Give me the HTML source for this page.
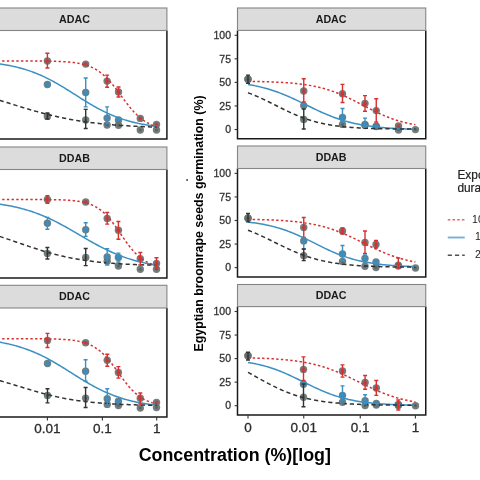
<!DOCTYPE html>
<html><head><meta charset="utf-8"><style>
html,body{margin:0;padding:0;background:#fff;width:480px;height:480px;overflow:hidden}
svg{display:block;will-change:transform;filter:blur(0.4px);font-family:"Liberation Sans",sans-serif}
</style></head><body>
<svg width="480" height="480" viewBox="0 0 480 480">
<rect width="480" height="480" fill="#fff"/>
<circle cx="248" cy="79.3" r="3.7" fill="#63706f" fill-opacity="0.9"/>
<circle cx="248" cy="79.3" r="1.5" fill="#4a4a4a" fill-opacity="0.5"/>
<circle cx="248" cy="79.3" r="3.7" fill="#63706f" fill-opacity="0.9"/>
<circle cx="248" cy="79.3" r="1.5" fill="#4a4a4a" fill-opacity="0.5"/>
<circle cx="303.75" cy="91" r="3.7" fill="#63706f" fill-opacity="0.9"/>
<circle cx="303.75" cy="91" r="2.0" fill="#c0393d" fill-opacity="0.85"/>
<circle cx="303.75" cy="105.6" r="3.7" fill="#63706f" fill-opacity="0.9"/>
<circle cx="303.75" cy="105.6" r="2.6" fill="#3a8cbf" fill-opacity="0.9"/>
<circle cx="303.75" cy="119.4" r="3.7" fill="#63706f" fill-opacity="0.9"/>
<circle cx="303.75" cy="119.4" r="1.5" fill="#4a4a4a" fill-opacity="0.5"/>
<circle cx="342.5" cy="93.75" r="3.7" fill="#63706f" fill-opacity="0.9"/>
<circle cx="342.5" cy="93.75" r="2.0" fill="#c0393d" fill-opacity="0.85"/>
<circle cx="342.5" cy="124.4" r="3.7" fill="#63706f" fill-opacity="0.9"/>
<circle cx="342.5" cy="124.4" r="1.5" fill="#4a4a4a" fill-opacity="0.5"/>
<circle cx="342.5" cy="117.5" r="3.7" fill="#63706f" fill-opacity="0.9"/>
<circle cx="342.5" cy="117.5" r="2.6" fill="#3a8cbf" fill-opacity="0.9"/>
<circle cx="365" cy="103.5" r="3.7" fill="#63706f" fill-opacity="0.9"/>
<circle cx="365" cy="103.5" r="2.0" fill="#c0393d" fill-opacity="0.85"/>
<circle cx="365" cy="125.5" r="3.7" fill="#63706f" fill-opacity="0.9"/>
<circle cx="365" cy="125.5" r="1.5" fill="#4a4a4a" fill-opacity="0.5"/>
<circle cx="365" cy="124.5" r="3.7" fill="#63706f" fill-opacity="0.9"/>
<circle cx="365" cy="124.5" r="2.6" fill="#3a8cbf" fill-opacity="0.9"/>
<circle cx="376.25" cy="110.6" r="3.7" fill="#63706f" fill-opacity="0.9"/>
<circle cx="376.25" cy="110.6" r="2.0" fill="#c0393d" fill-opacity="0.85"/>
<circle cx="376.25" cy="126.6" r="3.7" fill="#63706f" fill-opacity="0.9"/>
<circle cx="376.25" cy="126.6" r="1.5" fill="#4a4a4a" fill-opacity="0.5"/>
<circle cx="376.25" cy="126.25" r="3.7" fill="#63706f" fill-opacity="0.9"/>
<circle cx="376.25" cy="126.25" r="2.6" fill="#3a8cbf" fill-opacity="0.9"/>
<circle cx="398.5" cy="130" r="3.7" fill="#63706f" fill-opacity="0.9"/>
<circle cx="398.5" cy="130" r="1.5" fill="#4a4a4a" fill-opacity="0.5"/>
<circle cx="398.5" cy="126" r="3.7" fill="#63706f" fill-opacity="0.9"/>
<circle cx="398.5" cy="126" r="2.0" fill="#c0393d" fill-opacity="0.85"/>
<circle cx="415.4" cy="129.6" r="3.7" fill="#63706f" fill-opacity="0.9"/>
<circle cx="415.4" cy="129.6" r="1.5" fill="#4a4a4a" fill-opacity="0.5"/>
<circle cx="248" cy="218.2" r="3.7" fill="#63706f" fill-opacity="0.9"/>
<circle cx="248" cy="218.2" r="1.5" fill="#4a4a4a" fill-opacity="0.5"/>
<circle cx="248" cy="218.2" r="3.7" fill="#63706f" fill-opacity="0.9"/>
<circle cx="248" cy="218.2" r="1.5" fill="#4a4a4a" fill-opacity="0.5"/>
<circle cx="303.75" cy="227.4" r="3.7" fill="#63706f" fill-opacity="0.9"/>
<circle cx="303.75" cy="227.4" r="2.0" fill="#c0393d" fill-opacity="0.85"/>
<circle cx="303.75" cy="240.9" r="3.7" fill="#63706f" fill-opacity="0.9"/>
<circle cx="303.75" cy="240.9" r="2.6" fill="#3a8cbf" fill-opacity="0.9"/>
<circle cx="303.75" cy="255.8" r="3.7" fill="#63706f" fill-opacity="0.9"/>
<circle cx="303.75" cy="255.8" r="1.5" fill="#4a4a4a" fill-opacity="0.5"/>
<circle cx="342.5" cy="231" r="3.7" fill="#63706f" fill-opacity="0.9"/>
<circle cx="342.5" cy="231" r="2.0" fill="#c0393d" fill-opacity="0.85"/>
<circle cx="342.5" cy="254" r="3.7" fill="#63706f" fill-opacity="0.9"/>
<circle cx="342.5" cy="254" r="2.6" fill="#3a8cbf" fill-opacity="0.9"/>
<circle cx="342.5" cy="261.5" r="3.7" fill="#63706f" fill-opacity="0.9"/>
<circle cx="342.5" cy="261.5" r="1.5" fill="#4a4a4a" fill-opacity="0.5"/>
<circle cx="365" cy="242.5" r="3.7" fill="#63706f" fill-opacity="0.9"/>
<circle cx="365" cy="242.5" r="2.0" fill="#c0393d" fill-opacity="0.85"/>
<circle cx="365" cy="266.2" r="3.7" fill="#63706f" fill-opacity="0.9"/>
<circle cx="365" cy="266.2" r="1.5" fill="#4a4a4a" fill-opacity="0.5"/>
<circle cx="365" cy="258.5" r="3.7" fill="#63706f" fill-opacity="0.9"/>
<circle cx="365" cy="258.5" r="2.6" fill="#3a8cbf" fill-opacity="0.9"/>
<circle cx="376" cy="244.5" r="3.7" fill="#63706f" fill-opacity="0.9"/>
<circle cx="376" cy="244.5" r="2.0" fill="#c0393d" fill-opacity="0.85"/>
<circle cx="376" cy="267.5" r="3.7" fill="#63706f" fill-opacity="0.9"/>
<circle cx="376" cy="267.5" r="1.5" fill="#4a4a4a" fill-opacity="0.5"/>
<circle cx="376" cy="261.9" r="3.7" fill="#63706f" fill-opacity="0.9"/>
<circle cx="376" cy="261.9" r="2.6" fill="#3a8cbf" fill-opacity="0.9"/>
<circle cx="398.3" cy="266" r="3.7" fill="#63706f" fill-opacity="0.9"/>
<circle cx="398.3" cy="266" r="1.5" fill="#4a4a4a" fill-opacity="0.5"/>
<circle cx="398.3" cy="265.1" r="3.7" fill="#63706f" fill-opacity="0.9"/>
<circle cx="398.3" cy="265.1" r="2.0" fill="#c0393d" fill-opacity="0.85"/>
<circle cx="415.5" cy="268" r="3.7" fill="#63706f" fill-opacity="0.9"/>
<circle cx="415.5" cy="268" r="1.5" fill="#4a4a4a" fill-opacity="0.5"/>
<circle cx="248" cy="355.8" r="3.7" fill="#63706f" fill-opacity="0.9"/>
<circle cx="248" cy="355.8" r="1.5" fill="#4a4a4a" fill-opacity="0.5"/>
<circle cx="248" cy="355.8" r="3.7" fill="#63706f" fill-opacity="0.9"/>
<circle cx="248" cy="355.8" r="1.5" fill="#4a4a4a" fill-opacity="0.5"/>
<circle cx="303.5" cy="369.4" r="3.7" fill="#63706f" fill-opacity="0.9"/>
<circle cx="303.5" cy="369.4" r="2.0" fill="#c0393d" fill-opacity="0.85"/>
<circle cx="303.5" cy="384.3" r="3.7" fill="#63706f" fill-opacity="0.9"/>
<circle cx="303.5" cy="384.3" r="2.6" fill="#3a8cbf" fill-opacity="0.9"/>
<circle cx="303.5" cy="397.2" r="3.7" fill="#63706f" fill-opacity="0.9"/>
<circle cx="303.5" cy="397.2" r="1.5" fill="#4a4a4a" fill-opacity="0.5"/>
<circle cx="342.5" cy="371" r="3.7" fill="#63706f" fill-opacity="0.9"/>
<circle cx="342.5" cy="371" r="2.0" fill="#c0393d" fill-opacity="0.85"/>
<circle cx="342.5" cy="395.4" r="3.7" fill="#63706f" fill-opacity="0.9"/>
<circle cx="342.5" cy="395.4" r="2.6" fill="#3a8cbf" fill-opacity="0.9"/>
<circle cx="342.5" cy="402.2" r="3.7" fill="#63706f" fill-opacity="0.9"/>
<circle cx="342.5" cy="402.2" r="1.5" fill="#4a4a4a" fill-opacity="0.5"/>
<circle cx="365.1" cy="382.5" r="3.7" fill="#63706f" fill-opacity="0.9"/>
<circle cx="365.1" cy="382.5" r="2.0" fill="#c0393d" fill-opacity="0.85"/>
<circle cx="365.1" cy="405.5" r="3.7" fill="#63706f" fill-opacity="0.9"/>
<circle cx="365.1" cy="405.5" r="1.5" fill="#4a4a4a" fill-opacity="0.5"/>
<circle cx="365.1" cy="400.8" r="3.7" fill="#63706f" fill-opacity="0.9"/>
<circle cx="365.1" cy="400.8" r="2.6" fill="#3a8cbf" fill-opacity="0.9"/>
<circle cx="376.3" cy="388" r="3.7" fill="#63706f" fill-opacity="0.9"/>
<circle cx="376.3" cy="388" r="2.0" fill="#c0393d" fill-opacity="0.85"/>
<circle cx="376.3" cy="405" r="3.7" fill="#63706f" fill-opacity="0.9"/>
<circle cx="376.3" cy="405" r="1.5" fill="#4a4a4a" fill-opacity="0.5"/>
<circle cx="376.3" cy="403.5" r="3.7" fill="#63706f" fill-opacity="0.9"/>
<circle cx="376.3" cy="403.5" r="2.6" fill="#3a8cbf" fill-opacity="0.9"/>
<circle cx="398.3" cy="405.5" r="3.7" fill="#63706f" fill-opacity="0.9"/>
<circle cx="398.3" cy="405.5" r="1.5" fill="#4a4a4a" fill-opacity="0.5"/>
<circle cx="398.3" cy="404.6" r="3.7" fill="#63706f" fill-opacity="0.9"/>
<circle cx="398.3" cy="404.6" r="2.6" fill="#3a8cbf" fill-opacity="0.9"/>
<circle cx="398.3" cy="404.6" r="3.7" fill="#63706f" fill-opacity="0.9"/>
<circle cx="398.3" cy="404.6" r="2.0" fill="#c0393d" fill-opacity="0.85"/>
<circle cx="415.5" cy="405.7" r="3.7" fill="#63706f" fill-opacity="0.9"/>
<circle cx="415.5" cy="405.7" r="1.5" fill="#4a4a4a" fill-opacity="0.5"/>
<circle cx="47.4" cy="61" r="3.7" fill="#63706f" fill-opacity="0.9"/>
<circle cx="47.4" cy="61" r="2.0" fill="#c0393d" fill-opacity="0.85"/>
<circle cx="47.4" cy="84.5" r="3.7" fill="#63706f" fill-opacity="0.9"/>
<circle cx="47.4" cy="84.5" r="2.6" fill="#3a8cbf" fill-opacity="0.9"/>
<circle cx="47.4" cy="116.4" r="3.7" fill="#63706f" fill-opacity="0.9"/>
<circle cx="47.4" cy="116.4" r="1.5" fill="#4a4a4a" fill-opacity="0.5"/>
<circle cx="85.7" cy="64.1" r="3.7" fill="#63706f" fill-opacity="0.9"/>
<circle cx="85.7" cy="64.1" r="2.0" fill="#c0393d" fill-opacity="0.85"/>
<circle cx="85.7" cy="92.5" r="3.7" fill="#63706f" fill-opacity="0.9"/>
<circle cx="85.7" cy="92.5" r="2.6" fill="#3a8cbf" fill-opacity="0.9"/>
<circle cx="85.7" cy="120" r="3.7" fill="#63706f" fill-opacity="0.9"/>
<circle cx="85.7" cy="120" r="1.5" fill="#4a4a4a" fill-opacity="0.5"/>
<circle cx="107.1" cy="81.1" r="3.7" fill="#63706f" fill-opacity="0.9"/>
<circle cx="107.1" cy="81.1" r="2.0" fill="#c0393d" fill-opacity="0.85"/>
<circle cx="107.1" cy="118.1" r="3.7" fill="#63706f" fill-opacity="0.9"/>
<circle cx="107.1" cy="118.1" r="2.6" fill="#3a8cbf" fill-opacity="0.9"/>
<circle cx="107.1" cy="125" r="3.7" fill="#63706f" fill-opacity="0.9"/>
<circle cx="107.1" cy="125" r="1.5" fill="#4a4a4a" fill-opacity="0.5"/>
<circle cx="118.5" cy="92" r="3.7" fill="#63706f" fill-opacity="0.9"/>
<circle cx="118.5" cy="92" r="2.0" fill="#c0393d" fill-opacity="0.85"/>
<circle cx="118.5" cy="120" r="3.7" fill="#63706f" fill-opacity="0.9"/>
<circle cx="118.5" cy="120" r="2.6" fill="#3a8cbf" fill-opacity="0.9"/>
<circle cx="118.5" cy="125.2" r="3.7" fill="#63706f" fill-opacity="0.9"/>
<circle cx="118.5" cy="125.2" r="1.5" fill="#4a4a4a" fill-opacity="0.5"/>
<circle cx="140.3" cy="130" r="3.7" fill="#63706f" fill-opacity="0.9"/>
<circle cx="140.3" cy="130" r="1.5" fill="#4a4a4a" fill-opacity="0.5"/>
<circle cx="140.3" cy="118.4" r="3.7" fill="#63706f" fill-opacity="0.9"/>
<circle cx="140.3" cy="118.4" r="2.0" fill="#c0393d" fill-opacity="0.85"/>
<circle cx="156.5" cy="130" r="3.7" fill="#63706f" fill-opacity="0.9"/>
<circle cx="156.5" cy="130" r="1.5" fill="#4a4a4a" fill-opacity="0.5"/>
<circle cx="156.5" cy="124.4" r="3.7" fill="#63706f" fill-opacity="0.9"/>
<circle cx="156.5" cy="124.4" r="2.0" fill="#c0393d" fill-opacity="0.85"/>
<circle cx="47.4" cy="199.5" r="3.7" fill="#63706f" fill-opacity="0.9"/>
<circle cx="47.4" cy="199.5" r="2.0" fill="#c0393d" fill-opacity="0.85"/>
<circle cx="47.4" cy="223.3" r="3.7" fill="#63706f" fill-opacity="0.9"/>
<circle cx="47.4" cy="223.3" r="2.6" fill="#3a8cbf" fill-opacity="0.9"/>
<circle cx="47.4" cy="253.4" r="3.7" fill="#63706f" fill-opacity="0.9"/>
<circle cx="47.4" cy="253.4" r="1.5" fill="#4a4a4a" fill-opacity="0.5"/>
<circle cx="85.7" cy="202" r="3.7" fill="#63706f" fill-opacity="0.9"/>
<circle cx="85.7" cy="202" r="2.0" fill="#c0393d" fill-opacity="0.85"/>
<circle cx="85.7" cy="229.8" r="3.7" fill="#63706f" fill-opacity="0.9"/>
<circle cx="85.7" cy="229.8" r="2.6" fill="#3a8cbf" fill-opacity="0.9"/>
<circle cx="85.7" cy="257.5" r="3.7" fill="#63706f" fill-opacity="0.9"/>
<circle cx="85.7" cy="257.5" r="1.5" fill="#4a4a4a" fill-opacity="0.5"/>
<circle cx="107.2" cy="218.5" r="3.7" fill="#63706f" fill-opacity="0.9"/>
<circle cx="107.2" cy="218.5" r="2.0" fill="#c0393d" fill-opacity="0.85"/>
<circle cx="107.2" cy="261.3" r="3.7" fill="#63706f" fill-opacity="0.9"/>
<circle cx="107.2" cy="261.3" r="1.5" fill="#4a4a4a" fill-opacity="0.5"/>
<circle cx="107.2" cy="256.9" r="3.7" fill="#63706f" fill-opacity="0.9"/>
<circle cx="107.2" cy="256.9" r="2.6" fill="#3a8cbf" fill-opacity="0.9"/>
<circle cx="118.4" cy="230.3" r="3.7" fill="#63706f" fill-opacity="0.9"/>
<circle cx="118.4" cy="230.3" r="2.0" fill="#c0393d" fill-opacity="0.85"/>
<circle cx="118.4" cy="266" r="3.7" fill="#63706f" fill-opacity="0.9"/>
<circle cx="118.4" cy="266" r="1.5" fill="#4a4a4a" fill-opacity="0.5"/>
<circle cx="118.4" cy="257.5" r="3.7" fill="#63706f" fill-opacity="0.9"/>
<circle cx="118.4" cy="257.5" r="2.6" fill="#3a8cbf" fill-opacity="0.9"/>
<circle cx="140.3" cy="269.2" r="3.7" fill="#63706f" fill-opacity="0.9"/>
<circle cx="140.3" cy="269.2" r="1.5" fill="#4a4a4a" fill-opacity="0.5"/>
<circle cx="140.3" cy="258.75" r="3.7" fill="#63706f" fill-opacity="0.9"/>
<circle cx="140.3" cy="258.75" r="2.0" fill="#c0393d" fill-opacity="0.85"/>
<circle cx="156.5" cy="269.2" r="3.7" fill="#63706f" fill-opacity="0.9"/>
<circle cx="156.5" cy="269.2" r="1.5" fill="#4a4a4a" fill-opacity="0.5"/>
<circle cx="156.5" cy="263.4" r="3.7" fill="#63706f" fill-opacity="0.9"/>
<circle cx="156.5" cy="263.4" r="2.0" fill="#c0393d" fill-opacity="0.85"/>
<circle cx="47.5" cy="340.4" r="3.7" fill="#63706f" fill-opacity="0.9"/>
<circle cx="47.5" cy="340.4" r="2.0" fill="#c0393d" fill-opacity="0.85"/>
<circle cx="47.5" cy="363.5" r="3.7" fill="#63706f" fill-opacity="0.9"/>
<circle cx="47.5" cy="363.5" r="2.6" fill="#3a8cbf" fill-opacity="0.9"/>
<circle cx="47.5" cy="395.4" r="3.7" fill="#63706f" fill-opacity="0.9"/>
<circle cx="47.5" cy="395.4" r="1.5" fill="#4a4a4a" fill-opacity="0.5"/>
<circle cx="85.6" cy="342.8" r="3.7" fill="#63706f" fill-opacity="0.9"/>
<circle cx="85.6" cy="342.8" r="2.0" fill="#c0393d" fill-opacity="0.85"/>
<circle cx="85.6" cy="371.25" r="3.7" fill="#63706f" fill-opacity="0.9"/>
<circle cx="85.6" cy="371.25" r="2.6" fill="#3a8cbf" fill-opacity="0.9"/>
<circle cx="85.6" cy="398.1" r="3.7" fill="#63706f" fill-opacity="0.9"/>
<circle cx="85.6" cy="398.1" r="1.5" fill="#4a4a4a" fill-opacity="0.5"/>
<circle cx="107.25" cy="360.2" r="3.7" fill="#63706f" fill-opacity="0.9"/>
<circle cx="107.25" cy="360.2" r="2.0" fill="#c0393d" fill-opacity="0.85"/>
<circle cx="107.25" cy="404.4" r="3.7" fill="#63706f" fill-opacity="0.9"/>
<circle cx="107.25" cy="404.4" r="1.5" fill="#4a4a4a" fill-opacity="0.5"/>
<circle cx="107.25" cy="398.75" r="3.7" fill="#63706f" fill-opacity="0.9"/>
<circle cx="107.25" cy="398.75" r="2.6" fill="#3a8cbf" fill-opacity="0.9"/>
<circle cx="118.4" cy="372.5" r="3.7" fill="#63706f" fill-opacity="0.9"/>
<circle cx="118.4" cy="372.5" r="2.0" fill="#c0393d" fill-opacity="0.85"/>
<circle cx="118.4" cy="405.6" r="3.7" fill="#63706f" fill-opacity="0.9"/>
<circle cx="118.4" cy="405.6" r="1.5" fill="#4a4a4a" fill-opacity="0.5"/>
<circle cx="118.4" cy="401.25" r="3.7" fill="#63706f" fill-opacity="0.9"/>
<circle cx="118.4" cy="401.25" r="2.6" fill="#3a8cbf" fill-opacity="0.9"/>
<circle cx="140.3" cy="408.1" r="3.7" fill="#63706f" fill-opacity="0.9"/>
<circle cx="140.3" cy="408.1" r="1.5" fill="#4a4a4a" fill-opacity="0.5"/>
<circle cx="140.3" cy="398.2" r="3.7" fill="#63706f" fill-opacity="0.9"/>
<circle cx="140.3" cy="398.2" r="2.0" fill="#c0393d" fill-opacity="0.85"/>
<circle cx="156.5" cy="407.6" r="3.7" fill="#63706f" fill-opacity="0.9"/>
<circle cx="156.5" cy="407.6" r="1.5" fill="#4a4a4a" fill-opacity="0.5"/>
<circle cx="156.5" cy="402.4" r="3.7" fill="#63706f" fill-opacity="0.9"/>
<circle cx="156.5" cy="402.4" r="2.0" fill="#c0393d" fill-opacity="0.85"/>
<path d="M248.00,84.48 L249.50,84.73 L251.00,84.99 L252.50,85.27 L254.00,85.56 L255.50,85.87 L257.00,86.19 L258.50,86.52 L260.00,86.86 L261.50,87.23 L263.00,87.61 L264.50,88.00 L266.00,88.41 L267.50,88.83 L269.00,89.28 L270.50,89.74 L272.00,90.21 L273.50,90.70 L275.00,91.21 L276.50,91.74 L278.00,92.28 L279.50,92.84 L281.00,93.42 L282.50,94.01 L284.00,94.61 L285.50,95.23 L287.00,95.87 L288.50,96.52 L290.00,97.18 L291.50,97.85 L293.00,98.54 L294.50,99.24 L296.00,99.94 L297.50,100.66 L299.00,101.38 L300.50,102.10 L302.00,102.84 L303.50,103.57 L305.00,104.31 L306.50,105.05 L308.00,105.79 L309.50,106.52 L311.00,107.26 L312.50,107.99 L314.00,108.71 L315.50,109.43 L317.00,110.14 L318.50,110.84 L320.00,111.53 L321.50,112.21 L323.00,112.88 L324.50,113.54 L326.00,114.18 L327.50,114.81 L329.00,115.43 L330.50,116.03 L332.00,116.61 L333.50,117.18 L335.00,117.73 L336.50,118.27 L338.00,118.79 L339.50,119.29 L341.00,119.78 L342.50,120.25 L344.00,120.70 L345.50,121.13 L347.00,121.55 L348.50,121.96 L350.00,122.34 L351.50,122.72 L353.00,123.07 L354.50,123.41 L356.00,123.74 L357.50,124.05 L359.00,124.35 L360.50,124.64 L362.00,124.91 L363.50,125.17 L365.00,125.42 L366.50,125.65 L368.00,125.88 L369.50,126.09 L371.00,126.29 L372.50,126.49 L374.00,126.67 L375.50,126.84 L377.00,127.01 L378.50,127.17 L380.00,127.32 L381.50,127.46 L383.00,127.59 L384.50,127.72 L386.00,127.84 L387.50,127.95 L389.00,128.06 L390.50,128.16 L392.00,128.26 L393.50,128.35 L395.00,128.44 L396.50,128.52 L398.00,128.60 L399.50,128.67 L401.00,128.74 L402.50,128.81 L404.00,128.87 L405.50,128.93 L407.00,128.98 L408.50,129.03 L410.00,129.08 L411.50,129.13 L413.00,129.17 L414.50,129.22 L415.40,129.24" fill="none" stroke="#3a90c2" stroke-width="1.5"/>
<path d="M248.00,92.80 L249.50,93.35 L251.00,93.92 L252.50,94.50 L254.00,95.11 L255.50,95.73 L257.00,96.37 L258.50,97.02 L260.00,97.69 L261.50,98.37 L263.00,99.07 L264.50,99.78 L266.00,100.50 L267.50,101.23 L269.00,101.96 L270.50,102.71 L272.00,103.46 L273.50,104.22 L275.00,104.98 L276.50,105.74 L278.00,106.49 L279.50,107.25 L281.00,108.01 L282.50,108.75 L284.00,109.50 L285.50,110.23 L287.00,110.96 L288.50,111.67 L290.00,112.37 L291.50,113.06 L293.00,113.74 L294.50,114.40 L296.00,115.04 L297.50,115.67 L299.00,116.29 L300.50,116.88 L302.00,117.46 L303.50,118.01 L305.00,118.55 L306.50,119.07 L308.00,119.58 L309.50,120.06 L311.00,120.52 L312.50,120.97 L314.00,121.40 L315.50,121.81 L317.00,122.20 L318.50,122.57 L320.00,122.93 L321.50,123.27 L323.00,123.60 L324.50,123.91 L326.00,124.20 L327.50,124.48 L329.00,124.75 L330.50,125.00 L332.00,125.24 L333.50,125.47 L335.00,125.68 L336.50,125.89 L338.00,126.08 L339.50,126.26 L341.00,126.44 L342.50,126.60 L344.00,126.75 L345.50,126.90 L347.00,127.03 L348.50,127.16 L350.00,127.29 L351.50,127.40 L353.00,127.51 L354.50,127.61 L356.00,127.71 L357.50,127.80 L359.00,127.88 L360.50,127.96 L362.00,128.04 L363.50,128.11 L365.00,128.18 L366.50,128.24 L368.00,128.30 L369.50,128.35 L371.00,128.41 L372.50,128.46 L374.00,128.50 L375.50,128.54 L377.00,128.59 L378.50,128.62 L380.00,128.66 L381.50,128.69 L383.00,128.72 L384.50,128.75 L386.00,128.78 L387.50,128.81 L389.00,128.83 L390.50,128.86 L392.00,128.88 L393.50,128.90 L395.00,128.92 L396.50,128.94 L398.00,128.95 L399.50,128.97 L401.00,128.98 L402.50,129.00 L404.00,129.01 L405.50,129.02 L407.00,129.03 L408.50,129.04 L410.00,129.05 L411.50,129.06 L413.00,129.07 L414.50,129.08 L415.40,129.09" fill="none" stroke="#333333" stroke-width="1.5" stroke-dasharray="4.2 3"/>
<path d="M248.00,81.35 L249.50,81.37 L251.00,81.39 L252.50,81.42 L254.00,81.44 L255.50,81.47 L257.00,81.50 L258.50,81.54 L260.00,81.57 L261.50,81.61 L263.00,81.64 L264.50,81.69 L266.00,81.73 L267.50,81.78 L269.00,81.83 L270.50,81.88 L272.00,81.94 L273.50,82.00 L275.00,82.06 L276.50,82.13 L278.00,82.20 L279.50,82.28 L281.00,82.36 L282.50,82.45 L284.00,82.55 L285.50,82.65 L287.00,82.75 L288.50,82.86 L290.00,82.98 L291.50,83.11 L293.00,83.24 L294.50,83.39 L296.00,83.54 L297.50,83.70 L299.00,83.87 L300.50,84.05 L302.00,84.24 L303.50,84.44 L305.00,84.65 L306.50,84.88 L308.00,85.12 L309.50,85.37 L311.00,85.63 L312.50,85.91 L314.00,86.21 L315.50,86.52 L317.00,86.84 L318.50,87.19 L320.00,87.55 L321.50,87.92 L323.00,88.32 L324.50,88.73 L326.00,89.16 L327.50,89.62 L329.00,90.09 L330.50,90.58 L332.00,91.09 L333.50,91.62 L335.00,92.17 L336.50,92.74 L338.00,93.32 L339.50,93.93 L341.00,94.56 L342.50,95.20 L344.00,95.86 L345.50,96.54 L347.00,97.24 L348.50,97.95 L350.00,98.67 L351.50,99.40 L353.00,100.15 L354.50,100.91 L356.00,101.68 L357.50,102.45 L359.00,103.23 L360.50,104.01 L362.00,104.79 L363.50,105.58 L365.00,106.36 L366.50,107.14 L368.00,107.92 L369.50,108.69 L371.00,109.45 L372.50,110.21 L374.00,110.95 L375.50,111.68 L377.00,112.40 L378.50,113.11 L380.00,113.79 L381.50,114.47 L383.00,115.12 L384.50,115.76 L386.00,116.38 L387.50,116.98 L389.00,117.56 L390.50,118.13 L392.00,118.67 L393.50,119.19 L395.00,119.70 L396.50,120.18 L398.00,120.64 L399.50,121.09 L401.00,121.52 L402.50,121.92 L404.00,122.31 L405.50,122.68 L407.00,123.04 L408.50,123.37 L410.00,123.70 L411.50,124.00 L413.00,124.29 L414.50,124.56 L415.40,124.72" fill="none" stroke="#d8302f" stroke-width="1.5" stroke-dasharray="2.4 2.3"/>
<path d="M248.00,222.12 L249.50,222.29 L251.00,222.47 L252.50,222.66 L254.00,222.86 L255.50,223.07 L257.00,223.29 L258.50,223.53 L260.00,223.77 L261.50,224.03 L263.00,224.30 L264.50,224.59 L266.00,224.89 L267.50,225.20 L269.00,225.53 L270.50,225.88 L272.00,226.24 L273.50,226.62 L275.00,227.01 L276.50,227.42 L278.00,227.85 L279.50,228.30 L281.00,228.76 L282.50,229.25 L284.00,229.75 L285.50,230.26 L287.00,230.80 L288.50,231.36 L290.00,231.93 L291.50,232.52 L293.00,233.12 L294.50,233.74 L296.00,234.38 L297.50,235.03 L299.00,235.70 L300.50,236.38 L302.00,237.07 L303.50,237.78 L305.00,238.49 L306.50,239.21 L308.00,239.95 L309.50,240.68 L311.00,241.43 L312.50,242.17 L314.00,242.92 L315.50,243.67 L317.00,244.42 L318.50,245.16 L320.00,245.91 L321.50,246.64 L323.00,247.38 L324.50,248.10 L326.00,248.82 L327.50,249.52 L329.00,250.21 L330.50,250.89 L332.00,251.56 L333.50,252.22 L335.00,252.86 L336.50,253.48 L338.00,254.09 L339.50,254.68 L341.00,255.25 L342.50,255.80 L344.00,256.34 L345.50,256.86 L347.00,257.36 L348.50,257.85 L350.00,258.31 L351.50,258.76 L353.00,259.19 L354.50,259.61 L356.00,260.00 L357.50,260.38 L359.00,260.74 L360.50,261.09 L362.00,261.42 L363.50,261.74 L365.00,262.04 L366.50,262.32 L368.00,262.60 L369.50,262.86 L371.00,263.10 L372.50,263.34 L374.00,263.56 L375.50,263.77 L377.00,263.97 L378.50,264.16 L380.00,264.34 L381.50,264.51 L383.00,264.67 L384.50,264.82 L386.00,264.97 L387.50,265.10 L389.00,265.23 L390.50,265.35 L392.00,265.47 L393.50,265.58 L395.00,265.68 L396.50,265.78 L398.00,265.87 L399.50,265.95 L401.00,266.03 L402.50,266.11 L404.00,266.18 L405.50,266.25 L407.00,266.31 L408.50,266.37 L410.00,266.43 L411.50,266.48 L413.00,266.53 L414.50,266.58 L415.40,266.61" fill="none" stroke="#3a90c2" stroke-width="1.5"/>
<path d="M248.00,230.24 L249.50,230.82 L251.00,231.41 L252.50,232.02 L254.00,232.64 L255.50,233.28 L257.00,233.93 L258.50,234.60 L260.00,235.28 L261.50,235.96 L263.00,236.66 L264.50,237.37 L266.00,238.09 L267.50,238.81 L269.00,239.54 L270.50,240.27 L272.00,241.01 L273.50,241.75 L275.00,242.49 L276.50,243.23 L278.00,243.97 L279.50,244.71 L281.00,245.44 L282.50,246.17 L284.00,246.89 L285.50,247.60 L287.00,248.30 L288.50,249.00 L290.00,249.68 L291.50,250.35 L293.00,251.01 L294.50,251.65 L296.00,252.28 L297.50,252.90 L299.00,253.50 L300.50,254.09 L302.00,254.66 L303.50,255.21 L305.00,255.75 L306.50,256.26 L308.00,256.77 L309.50,257.25 L311.00,257.72 L312.50,258.17 L314.00,258.61 L315.50,259.03 L317.00,259.43 L318.50,259.82 L320.00,260.19 L321.50,260.55 L323.00,260.89 L324.50,261.21 L326.00,261.53 L327.50,261.82 L329.00,262.11 L330.50,262.38 L332.00,262.64 L333.50,262.89 L335.00,263.12 L336.50,263.35 L338.00,263.56 L339.50,263.76 L341.00,263.96 L342.50,264.14 L344.00,264.31 L345.50,264.48 L347.00,264.64 L348.50,264.78 L350.00,264.92 L351.50,265.06 L353.00,265.19 L354.50,265.31 L356.00,265.42 L357.50,265.53 L359.00,265.63 L360.50,265.72 L362.00,265.82 L363.50,265.90 L365.00,265.98 L366.50,266.06 L368.00,266.13 L369.50,266.20 L371.00,266.27 L372.50,266.33 L374.00,266.39 L375.50,266.44 L377.00,266.50 L378.50,266.54 L380.00,266.59 L381.50,266.63 L383.00,266.68 L384.50,266.71 L386.00,266.75 L387.50,266.79 L389.00,266.82 L390.50,266.85 L392.00,266.88 L393.50,266.91 L395.00,266.93 L396.50,266.96 L398.00,266.98 L399.50,267.00 L401.00,267.02 L402.50,267.04 L404.00,267.06 L405.50,267.08 L407.00,267.09 L408.50,267.11 L410.00,267.12 L411.50,267.14 L413.00,267.15 L414.50,267.16 L415.40,267.17" fill="none" stroke="#333333" stroke-width="1.5" stroke-dasharray="4.2 3"/>
<path d="M248.00,219.33 L249.50,219.35 L251.00,219.38 L252.50,219.41 L254.00,219.44 L255.50,219.47 L257.00,219.51 L258.50,219.55 L260.00,219.59 L261.50,219.63 L263.00,219.67 L264.50,219.72 L266.00,219.77 L267.50,219.82 L269.00,219.88 L270.50,219.94 L272.00,220.00 L273.50,220.07 L275.00,220.14 L276.50,220.22 L278.00,220.30 L279.50,220.38 L281.00,220.47 L282.50,220.57 L284.00,220.67 L285.50,220.78 L287.00,220.89 L288.50,221.01 L290.00,221.14 L291.50,221.27 L293.00,221.42 L294.50,221.57 L296.00,221.73 L297.50,221.89 L299.00,222.07 L300.50,222.26 L302.00,222.46 L303.50,222.67 L305.00,222.89 L306.50,223.12 L308.00,223.36 L309.50,223.62 L311.00,223.89 L312.50,224.17 L314.00,224.47 L315.50,224.78 L317.00,225.11 L318.50,225.45 L320.00,225.81 L321.50,226.18 L323.00,226.57 L324.50,226.98 L326.00,227.40 L327.50,227.85 L329.00,228.31 L330.50,228.78 L332.00,229.28 L333.50,229.79 L335.00,230.32 L336.50,230.87 L338.00,231.44 L339.50,232.02 L341.00,232.62 L342.50,233.23 L344.00,233.87 L345.50,234.51 L347.00,235.17 L348.50,235.85 L350.00,236.53 L351.50,237.23 L353.00,237.94 L354.50,238.66 L356.00,239.38 L357.50,240.11 L359.00,240.85 L360.50,241.59 L362.00,242.34 L363.50,243.08 L365.00,243.83 L366.50,244.57 L368.00,245.31 L369.50,246.05 L371.00,246.78 L372.50,247.50 L374.00,248.22 L375.50,248.92 L377.00,249.62 L378.50,250.30 L380.00,250.97 L381.50,251.62 L383.00,252.27 L384.50,252.89 L386.00,253.50 L387.50,254.10 L389.00,254.67 L390.50,255.23 L392.00,255.77 L393.50,256.30 L395.00,256.81 L396.50,257.30 L398.00,257.77 L399.50,258.22 L401.00,258.66 L402.50,259.08 L404.00,259.48 L405.50,259.86 L407.00,260.23 L408.50,260.58 L410.00,260.92 L411.50,261.24 L413.00,261.55 L414.50,261.84 L415.40,262.01" fill="none" stroke="#d8302f" stroke-width="1.5" stroke-dasharray="2.4 2.3"/>
<path d="M248.00,362.40 L249.50,362.65 L251.00,362.91 L252.50,363.19 L254.00,363.48 L255.50,363.79 L257.00,364.11 L258.50,364.45 L260.00,364.80 L261.50,365.17 L263.00,365.55 L264.50,365.96 L266.00,366.38 L267.50,366.81 L269.00,367.27 L270.50,367.74 L272.00,368.23 L273.50,368.74 L275.00,369.27 L276.50,369.81 L278.00,370.37 L279.50,370.95 L281.00,371.55 L282.50,372.16 L284.00,372.79 L285.50,373.43 L287.00,374.09 L288.50,374.76 L290.00,375.45 L291.50,376.14 L293.00,376.85 L294.50,377.57 L296.00,378.29 L297.50,379.02 L299.00,379.76 L300.50,380.50 L302.00,381.24 L303.50,381.99 L305.00,382.73 L306.50,383.48 L308.00,384.22 L309.50,384.95 L311.00,385.68 L312.50,386.40 L314.00,387.12 L315.50,387.82 L317.00,388.51 L318.50,389.19 L320.00,389.86 L321.50,390.51 L323.00,391.15 L324.50,391.78 L326.00,392.39 L327.50,392.98 L329.00,393.55 L330.50,394.11 L332.00,394.65 L333.50,395.17 L335.00,395.67 L336.50,396.16 L338.00,396.62 L339.50,397.07 L341.00,397.51 L342.50,397.92 L344.00,398.32 L345.50,398.70 L347.00,399.06 L348.50,399.41 L350.00,399.74 L351.50,400.06 L353.00,400.36 L354.50,400.65 L356.00,400.92 L357.50,401.18 L359.00,401.43 L360.50,401.67 L362.00,401.89 L363.50,402.10 L365.00,402.30 L366.50,402.49 L368.00,402.67 L369.50,402.84 L371.00,403.01 L372.50,403.16 L374.00,403.30 L375.50,403.44 L377.00,403.57 L378.50,403.69 L380.00,403.80 L381.50,403.91 L383.00,404.02 L384.50,404.11 L386.00,404.20 L387.50,404.29 L389.00,404.37 L390.50,404.45 L392.00,404.52 L393.50,404.59 L395.00,404.65 L396.50,404.71 L398.00,404.77 L399.50,404.82 L401.00,404.87 L402.50,404.92 L404.00,404.96 L405.50,405.00 L407.00,405.04 L408.50,405.08 L410.00,405.11 L411.50,405.15 L413.00,405.18 L414.50,405.21 L415.40,405.22" fill="none" stroke="#3a90c2" stroke-width="1.5"/>
<path d="M248.00,372.34 L249.50,373.16 L251.00,373.98 L252.50,374.82 L254.00,375.65 L255.50,376.49 L257.00,377.33 L258.50,378.16 L260.00,379.00 L261.50,379.83 L263.00,380.65 L264.50,381.47 L266.00,382.28 L267.50,383.08 L269.00,383.87 L270.50,384.65 L272.00,385.42 L273.50,386.17 L275.00,386.91 L276.50,387.63 L278.00,388.34 L279.50,389.03 L281.00,389.71 L282.50,390.36 L284.00,391.00 L285.50,391.62 L287.00,392.22 L288.50,392.81 L290.00,393.37 L291.50,393.91 L293.00,394.44 L294.50,394.95 L296.00,395.44 L297.50,395.91 L299.00,396.36 L300.50,396.79 L302.00,397.21 L303.50,397.61 L305.00,397.99 L306.50,398.36 L308.00,398.71 L309.50,399.05 L311.00,399.37 L312.50,399.67 L314.00,399.97 L315.50,400.25 L317.00,400.51 L318.50,400.76 L320.00,401.00 L321.50,401.23 L323.00,401.45 L324.50,401.66 L326.00,401.86 L327.50,402.04 L329.00,402.22 L330.50,402.39 L332.00,402.55 L333.50,402.70 L335.00,402.84 L336.50,402.98 L338.00,403.11 L339.50,403.23 L341.00,403.35 L342.50,403.46 L344.00,403.56 L345.50,403.66 L347.00,403.75 L348.50,403.84 L350.00,403.92 L351.50,404.00 L353.00,404.08 L354.50,404.15 L356.00,404.21 L357.50,404.28 L359.00,404.34 L360.50,404.39 L362.00,404.45 L363.50,404.50 L365.00,404.54 L366.50,404.59 L368.00,404.63 L369.50,404.67 L371.00,404.71 L372.50,404.75 L374.00,404.78 L375.50,404.81 L377.00,404.84 L378.50,404.87 L380.00,404.90 L381.50,404.92 L383.00,404.94 L384.50,404.97 L386.00,404.99 L387.50,405.01 L389.00,405.03 L390.50,405.05 L392.00,405.06 L393.50,405.08 L395.00,405.09 L396.50,405.11 L398.00,405.12 L399.50,405.13 L401.00,405.15 L402.50,405.16 L404.00,405.17 L405.50,405.18 L407.00,405.19 L408.50,405.20 L410.00,405.20 L411.50,405.21 L413.00,405.22 L414.50,405.23 L415.40,405.23" fill="none" stroke="#333333" stroke-width="1.5" stroke-dasharray="4.2 3"/>
<path d="M248.00,357.89 L249.50,357.92 L251.00,357.96 L252.50,358.00 L254.00,358.04 L255.50,358.08 L257.00,358.13 L258.50,358.18 L260.00,358.23 L261.50,358.29 L263.00,358.35 L264.50,358.41 L266.00,358.47 L267.50,358.54 L269.00,358.62 L270.50,358.70 L272.00,358.78 L273.50,358.87 L275.00,358.96 L276.50,359.06 L278.00,359.16 L279.50,359.27 L281.00,359.39 L282.50,359.51 L284.00,359.64 L285.50,359.78 L287.00,359.93 L288.50,360.08 L290.00,360.24 L291.50,360.41 L293.00,360.59 L294.50,360.78 L296.00,360.98 L297.50,361.19 L299.00,361.41 L300.50,361.64 L302.00,361.88 L303.50,362.14 L305.00,362.41 L306.50,362.69 L308.00,362.98 L309.50,363.29 L311.00,363.62 L312.50,363.96 L314.00,364.31 L315.50,364.68 L317.00,365.06 L318.50,365.47 L320.00,365.88 L321.50,366.32 L323.00,366.77 L324.50,367.24 L326.00,367.72 L327.50,368.23 L329.00,368.75 L330.50,369.29 L332.00,369.84 L333.50,370.41 L335.00,371.00 L336.50,371.60 L338.00,372.22 L339.50,372.85 L341.00,373.50 L342.50,374.16 L344.00,374.84 L345.50,375.52 L347.00,376.22 L348.50,376.92 L350.00,377.64 L351.50,378.36 L353.00,379.09 L354.50,379.82 L356.00,380.56 L357.50,381.30 L359.00,382.04 L360.50,382.78 L362.00,383.52 L363.50,384.26 L365.00,384.99 L366.50,385.72 L368.00,386.44 L369.50,387.15 L371.00,387.86 L372.50,388.55 L374.00,389.23 L375.50,389.90 L377.00,390.56 L378.50,391.20 L380.00,391.83 L381.50,392.45 L383.00,393.05 L384.50,393.63 L386.00,394.19 L387.50,394.74 L389.00,395.28 L390.50,395.79 L392.00,396.29 L393.50,396.77 L395.00,397.23 L396.50,397.68 L398.00,398.11 L399.50,398.52 L401.00,398.92 L402.50,399.30 L404.00,399.67 L405.50,400.02 L407.00,400.35 L408.50,400.67 L410.00,400.97 L411.50,401.27 L413.00,401.54 L414.50,401.81 L415.40,401.96" fill="none" stroke="#d8302f" stroke-width="1.5" stroke-dasharray="2.4 2.3"/>
<path d="M-7.25,62.99 L-5.75,63.16 L-4.25,63.35 L-2.75,63.55 L-1.25,63.75 L0.25,63.97 L1.75,64.20 L3.25,64.43 L4.75,64.68 L6.25,64.94 L7.75,65.22 L9.25,65.50 L10.75,65.80 L12.25,66.12 L13.75,66.44 L15.25,66.79 L16.75,67.14 L18.25,67.52 L19.75,67.91 L21.25,68.31 L22.75,68.73 L24.25,69.17 L25.75,69.63 L27.25,70.11 L28.75,70.60 L30.25,71.11 L31.75,71.65 L33.25,72.20 L34.75,72.77 L36.25,73.36 L37.75,73.97 L39.25,74.60 L40.75,75.25 L42.25,75.92 L43.75,76.61 L45.25,77.32 L46.75,78.05 L48.25,78.80 L49.75,79.57 L51.25,80.35 L52.75,81.16 L54.25,81.98 L55.75,82.82 L57.25,83.67 L58.75,84.54 L60.25,85.42 L61.75,86.31 L63.25,87.22 L64.75,88.13 L66.25,89.06 L67.75,89.99 L69.25,90.93 L70.75,91.88 L72.25,92.83 L73.75,93.78 L75.25,94.74 L76.75,95.69 L78.25,96.65 L79.75,97.60 L81.25,98.55 L82.75,99.49 L84.25,100.42 L85.75,101.35 L87.25,102.26 L88.75,103.17 L90.25,104.06 L91.75,104.95 L93.25,105.81 L94.75,106.67 L96.25,107.50 L97.75,108.32 L99.25,109.13 L100.75,109.91 L102.25,110.68 L103.75,111.43 L105.25,112.16 L106.75,112.87 L108.25,113.56 L109.75,114.23 L111.25,114.88 L112.75,115.52 L114.25,116.13 L115.75,116.72 L117.25,117.29 L118.75,117.84 L120.25,118.37 L121.75,118.89 L123.25,119.38 L124.75,119.86 L126.25,120.32 L127.75,120.76 L129.25,121.18 L130.75,121.58 L132.25,121.97 L133.75,122.35 L135.25,122.70 L136.75,123.05 L138.25,123.37 L139.75,123.69 L141.25,123.99 L142.75,124.27 L144.25,124.55 L145.75,124.81 L147.25,125.06 L148.75,125.30 L150.25,125.52 L151.75,125.74 L153.25,125.94 L154.75,126.14 L156.25,126.33 L156.70,126.38" fill="none" stroke="#3a90c2" stroke-width="1.5"/>
<path d="M-7.25,98.29 L-5.75,98.73 L-4.25,99.18 L-2.75,99.63 L-1.25,100.08 L0.25,100.53 L1.75,100.99 L3.25,101.45 L4.75,101.91 L6.25,102.37 L7.75,102.83 L9.25,103.30 L10.75,103.76 L12.25,104.22 L13.75,104.69 L15.25,105.15 L16.75,105.61 L18.25,106.07 L19.75,106.53 L21.25,106.99 L22.75,107.44 L24.25,107.89 L25.75,108.34 L27.25,108.79 L28.75,109.23 L30.25,109.67 L31.75,110.10 L33.25,110.53 L34.75,110.96 L36.25,111.38 L37.75,111.80 L39.25,112.21 L40.75,112.61 L42.25,113.01 L43.75,113.41 L45.25,113.80 L46.75,114.18 L48.25,114.56 L49.75,114.93 L51.25,115.29 L52.75,115.65 L54.25,116.00 L55.75,116.35 L57.25,116.68 L58.75,117.02 L60.25,117.34 L61.75,117.66 L63.25,117.97 L64.75,118.28 L66.25,118.57 L67.75,118.87 L69.25,119.15 L70.75,119.43 L72.25,119.70 L73.75,119.97 L75.25,120.22 L76.75,120.48 L78.25,120.72 L79.75,120.96 L81.25,121.19 L82.75,121.42 L84.25,121.64 L85.75,121.86 L87.25,122.07 L88.75,122.27 L90.25,122.47 L91.75,122.66 L93.25,122.85 L94.75,123.03 L96.25,123.20 L97.75,123.37 L99.25,123.54 L100.75,123.70 L102.25,123.86 L103.75,124.01 L105.25,124.15 L106.75,124.30 L108.25,124.43 L109.75,124.57 L111.25,124.70 L112.75,124.82 L114.25,124.94 L115.75,125.06 L117.25,125.17 L118.75,125.28 L120.25,125.39 L121.75,125.49 L123.25,125.59 L124.75,125.69 L126.25,125.78 L127.75,125.87 L129.25,125.96 L130.75,126.04 L132.25,126.12 L133.75,126.20 L135.25,126.28 L136.75,126.35 L138.25,126.42 L139.75,126.49 L141.25,126.55 L142.75,126.62 L144.25,126.68 L145.75,126.74 L147.25,126.79 L148.75,126.85 L150.25,126.90 L151.75,126.96 L153.25,127.00 L154.75,127.05 L156.25,127.10 L156.70,127.11" fill="none" stroke="#333333" stroke-width="1.5" stroke-dasharray="4.2 3"/>
<path d="M-7.25,60.87 L-5.75,60.87 L-4.25,60.87 L-2.75,60.87 L-1.25,60.87 L0.25,60.88 L1.75,60.88 L3.25,60.88 L4.75,60.88 L6.25,60.88 L7.75,60.88 L9.25,60.88 L10.75,60.88 L12.25,60.88 L13.75,60.89 L15.25,60.89 L16.75,60.89 L18.25,60.89 L19.75,60.90 L21.25,60.90 L22.75,60.90 L24.25,60.91 L25.75,60.91 L27.25,60.92 L28.75,60.92 L30.25,60.93 L31.75,60.94 L33.25,60.95 L34.75,60.96 L36.25,60.97 L37.75,60.98 L39.25,60.99 L40.75,61.01 L42.25,61.02 L43.75,61.04 L45.25,61.06 L46.75,61.09 L48.25,61.11 L49.75,61.14 L51.25,61.18 L52.75,61.22 L54.25,61.26 L55.75,61.31 L57.25,61.36 L58.75,61.42 L60.25,61.49 L61.75,61.56 L63.25,61.65 L64.75,61.74 L66.25,61.85 L67.75,61.97 L69.25,62.10 L70.75,62.25 L72.25,62.41 L73.75,62.60 L75.25,62.81 L76.75,63.04 L78.25,63.29 L79.75,63.58 L81.25,63.90 L82.75,64.26 L84.25,64.65 L85.75,65.09 L87.25,65.57 L88.75,66.11 L90.25,66.70 L91.75,67.35 L93.25,68.07 L94.75,68.85 L96.25,69.71 L97.75,70.65 L99.25,71.67 L100.75,72.77 L102.25,73.96 L103.75,75.25 L105.25,76.62 L106.75,78.08 L108.25,79.64 L109.75,81.27 L111.25,82.99 L112.75,84.79 L114.25,86.65 L115.75,88.57 L117.25,90.54 L118.75,92.54 L120.25,94.57 L121.75,96.60 L123.25,98.63 L124.75,100.64 L126.25,102.62 L127.75,104.56 L129.25,106.44 L130.75,108.26 L132.25,110.00 L133.75,111.67 L135.25,113.25 L136.75,114.74 L138.25,116.14 L139.75,117.46 L141.25,118.68 L142.75,119.81 L144.25,120.86 L145.75,121.82 L147.25,122.70 L148.75,123.51 L150.25,124.25 L151.75,124.92 L153.25,125.53 L154.75,126.09 L156.25,126.59 L156.70,126.73" fill="none" stroke="#d8302f" stroke-width="1.5" stroke-dasharray="2.4 2.3"/>
<path d="M-7.25,203.20 L-5.75,203.39 L-4.25,203.58 L-2.75,203.78 L-1.25,203.99 L0.25,204.21 L1.75,204.44 L3.25,204.68 L4.75,204.93 L6.25,205.19 L7.75,205.46 L9.25,205.74 L10.75,206.04 L12.25,206.34 L13.75,206.66 L15.25,206.99 L16.75,207.33 L18.25,207.69 L19.75,208.06 L21.25,208.45 L22.75,208.85 L24.25,209.26 L25.75,209.69 L27.25,210.14 L28.75,210.60 L30.25,211.07 L31.75,211.57 L33.25,212.07 L34.75,212.60 L36.25,213.14 L37.75,213.70 L39.25,214.27 L40.75,214.86 L42.25,215.47 L43.75,216.10 L45.25,216.74 L46.75,217.39 L48.25,218.07 L49.75,218.76 L51.25,219.46 L52.75,220.18 L54.25,220.92 L55.75,221.67 L57.25,222.43 L58.75,223.21 L60.25,224.00 L61.75,224.80 L63.25,225.62 L64.75,226.44 L66.25,227.27 L67.75,228.11 L69.25,228.96 L70.75,229.82 L72.25,230.69 L73.75,231.55 L75.25,232.43 L76.75,233.30 L78.25,234.18 L79.75,235.06 L81.25,235.93 L82.75,236.81 L84.25,237.69 L85.75,238.56 L87.25,239.42 L88.75,240.28 L90.25,241.14 L91.75,241.98 L93.25,242.82 L94.75,243.65 L96.25,244.47 L97.75,245.28 L99.25,246.08 L100.75,246.86 L102.25,247.63 L103.75,248.39 L105.25,249.14 L106.75,249.86 L108.25,250.58 L109.75,251.28 L111.25,251.96 L112.75,252.63 L114.25,253.28 L115.75,253.91 L117.25,254.53 L118.75,255.13 L120.25,255.72 L121.75,256.28 L123.25,256.83 L124.75,257.37 L126.25,257.89 L127.75,258.39 L129.25,258.87 L130.75,259.34 L132.25,259.80 L133.75,260.24 L135.25,260.66 L136.75,261.07 L138.25,261.46 L139.75,261.84 L141.25,262.20 L142.75,262.56 L144.25,262.89 L145.75,263.22 L147.25,263.53 L148.75,263.83 L150.25,264.12 L151.75,264.40 L153.25,264.67 L154.75,264.92 L156.25,265.17 L156.70,265.24" fill="none" stroke="#3a90c2" stroke-width="1.5"/>
<path d="M-7.25,234.27 L-5.75,234.72 L-4.25,235.19 L-2.75,235.66 L-1.25,236.14 L0.25,236.62 L1.75,237.11 L3.25,237.60 L4.75,238.10 L6.25,238.60 L7.75,239.11 L9.25,239.62 L10.75,240.13 L12.25,240.65 L13.75,241.17 L15.25,241.68 L16.75,242.20 L18.25,242.72 L19.75,243.25 L21.25,243.76 L22.75,244.28 L24.25,244.80 L25.75,245.32 L27.25,245.83 L28.75,246.34 L30.25,246.84 L31.75,247.34 L33.25,247.84 L34.75,248.33 L36.25,248.82 L37.75,249.30 L39.25,249.77 L40.75,250.24 L42.25,250.70 L43.75,251.16 L45.25,251.61 L46.75,252.05 L48.25,252.48 L49.75,252.90 L51.25,253.32 L52.75,253.72 L54.25,254.12 L55.75,254.51 L57.25,254.89 L58.75,255.26 L60.25,255.63 L61.75,255.98 L63.25,256.33 L64.75,256.66 L66.25,256.99 L67.75,257.31 L69.25,257.62 L70.75,257.92 L72.25,258.21 L73.75,258.50 L75.25,258.77 L76.75,259.04 L78.25,259.30 L79.75,259.55 L81.25,259.79 L82.75,260.03 L84.25,260.25 L85.75,260.47 L87.25,260.69 L88.75,260.89 L90.25,261.09 L91.75,261.28 L93.25,261.46 L94.75,261.64 L96.25,261.81 L97.75,261.98 L99.25,262.14 L100.75,262.29 L102.25,262.44 L103.75,262.58 L105.25,262.72 L106.75,262.85 L108.25,262.98 L109.75,263.10 L111.25,263.21 L112.75,263.33 L114.25,263.44 L115.75,263.54 L117.25,263.64 L118.75,263.74 L120.25,263.83 L121.75,263.92 L123.25,264.00 L124.75,264.08 L126.25,264.16 L127.75,264.24 L129.25,264.31 L130.75,264.38 L132.25,264.44 L133.75,264.51 L135.25,264.57 L136.75,264.63 L138.25,264.68 L139.75,264.74 L141.25,264.79 L142.75,264.84 L144.25,264.89 L145.75,264.93 L147.25,264.98 L148.75,265.02 L150.25,265.06 L151.75,265.10 L153.25,265.13 L154.75,265.17 L156.25,265.20 L156.70,265.21" fill="none" stroke="#333333" stroke-width="1.5" stroke-dasharray="4.2 3"/>
<path d="M-7.25,199.47 L-5.75,199.47 L-4.25,199.47 L-2.75,199.47 L-1.25,199.47 L0.25,199.47 L1.75,199.47 L3.25,199.47 L4.75,199.47 L6.25,199.47 L7.75,199.47 L9.25,199.47 L10.75,199.47 L12.25,199.47 L13.75,199.47 L15.25,199.47 L16.75,199.47 L18.25,199.48 L19.75,199.48 L21.25,199.48 L22.75,199.48 L24.25,199.48 L25.75,199.49 L27.25,199.49 L28.75,199.49 L30.25,199.50 L31.75,199.50 L33.25,199.51 L34.75,199.51 L36.25,199.52 L37.75,199.52 L39.25,199.53 L40.75,199.54 L42.25,199.55 L43.75,199.56 L45.25,199.58 L46.75,199.59 L48.25,199.61 L49.75,199.63 L51.25,199.65 L52.75,199.68 L54.25,199.71 L55.75,199.74 L57.25,199.78 L58.75,199.82 L60.25,199.87 L61.75,199.92 L63.25,199.98 L64.75,200.05 L66.25,200.13 L67.75,200.22 L69.25,200.32 L70.75,200.44 L72.25,200.57 L73.75,200.72 L75.25,200.88 L76.75,201.07 L78.25,201.28 L79.75,201.52 L81.25,201.79 L82.75,202.10 L84.25,202.44 L85.75,202.82 L87.25,203.25 L88.75,203.74 L90.25,204.28 L91.75,204.88 L93.25,205.55 L94.75,206.30 L96.25,207.12 L97.75,208.03 L99.25,209.04 L100.75,210.14 L102.25,211.34 L103.75,212.65 L105.25,214.06 L106.75,215.58 L108.25,217.21 L109.75,218.94 L111.25,220.78 L112.75,222.70 L114.25,224.71 L115.75,226.79 L117.25,228.92 L118.75,231.10 L120.25,233.30 L121.75,235.51 L123.25,237.70 L124.75,239.87 L126.25,241.99 L127.75,244.06 L129.25,246.04 L130.75,247.95 L132.25,249.76 L133.75,251.47 L135.25,253.07 L136.75,254.57 L138.25,255.96 L139.75,257.24 L141.25,258.41 L142.75,259.49 L144.25,260.47 L145.75,261.36 L147.25,262.17 L148.75,262.90 L150.25,263.55 L151.75,264.14 L153.25,264.66 L154.75,265.14 L156.25,265.55 L156.70,265.67" fill="none" stroke="#d8302f" stroke-width="1.5" stroke-dasharray="2.4 2.3"/>
<path d="M-7.25,341.11 L-5.75,341.33 L-4.25,341.56 L-2.75,341.80 L-1.25,342.05 L0.25,342.31 L1.75,342.58 L3.25,342.87 L4.75,343.17 L6.25,343.48 L7.75,343.80 L9.25,344.14 L10.75,344.50 L12.25,344.87 L13.75,345.25 L15.25,345.65 L16.75,346.07 L18.25,346.50 L19.75,346.95 L21.25,347.42 L22.75,347.90 L24.25,348.41 L25.75,348.93 L27.25,349.47 L28.75,350.03 L30.25,350.60 L31.75,351.20 L33.25,351.81 L34.75,352.45 L36.25,353.10 L37.75,353.78 L39.25,354.47 L40.75,355.18 L42.25,355.91 L43.75,356.66 L45.25,357.42 L46.75,358.20 L48.25,359.00 L49.75,359.82 L51.25,360.65 L52.75,361.50 L54.25,362.36 L55.75,363.23 L57.25,364.12 L58.75,365.01 L60.25,365.92 L61.75,366.84 L63.25,367.76 L64.75,368.69 L66.25,369.63 L67.75,370.57 L69.25,371.52 L70.75,372.46 L72.25,373.41 L73.75,374.35 L75.25,375.30 L76.75,376.24 L78.25,377.17 L79.75,378.10 L81.25,379.02 L82.75,379.94 L84.25,380.84 L85.75,381.73 L87.25,382.61 L88.75,383.48 L90.25,384.34 L91.75,385.18 L93.25,386.00 L94.75,386.81 L96.25,387.61 L97.75,388.38 L99.25,389.14 L100.75,389.88 L102.25,390.60 L103.75,391.31 L105.25,391.99 L106.75,392.66 L108.25,393.31 L109.75,393.93 L111.25,394.54 L112.75,395.13 L114.25,395.70 L115.75,396.25 L117.25,396.78 L118.75,397.30 L120.25,397.79 L121.75,398.27 L123.25,398.73 L124.75,399.18 L126.25,399.60 L127.75,400.01 L129.25,400.41 L130.75,400.79 L132.25,401.15 L133.75,401.50 L135.25,401.83 L136.75,402.15 L138.25,402.46 L139.75,402.75 L141.25,403.03 L142.75,403.30 L144.25,403.56 L145.75,403.81 L147.25,404.04 L148.75,404.27 L150.25,404.48 L151.75,404.68 L153.25,404.88 L154.75,405.07 L156.25,405.24 L156.70,405.29" fill="none" stroke="#3a90c2" stroke-width="1.5"/>
<path d="M-7.25,378.71 L-5.75,379.11 L-4.25,379.51 L-2.75,379.92 L-1.25,380.33 L0.25,380.75 L1.75,381.18 L3.25,381.61 L4.75,382.05 L6.25,382.49 L7.75,382.93 L9.25,383.38 L10.75,383.83 L12.25,384.29 L13.75,384.75 L15.25,385.21 L16.75,385.67 L18.25,386.13 L19.75,386.59 L21.25,387.05 L22.75,387.51 L24.25,387.97 L25.75,388.43 L27.25,388.88 L28.75,389.34 L30.25,389.78 L31.75,390.23 L33.25,390.67 L34.75,391.11 L36.25,391.54 L37.75,391.97 L39.25,392.39 L40.75,392.80 L42.25,393.21 L43.75,393.61 L45.25,394.00 L46.75,394.39 L48.25,394.77 L49.75,395.14 L51.25,395.50 L52.75,395.86 L54.25,396.21 L55.75,396.55 L57.25,396.88 L58.75,397.20 L60.25,397.52 L61.75,397.82 L63.25,398.12 L64.75,398.41 L66.25,398.69 L67.75,398.96 L69.25,399.23 L70.75,399.48 L72.25,399.73 L73.75,399.97 L75.25,400.20 L76.75,400.43 L78.25,400.64 L79.75,400.85 L81.25,401.06 L82.75,401.25 L84.25,401.44 L85.75,401.62 L87.25,401.80 L88.75,401.97 L90.25,402.13 L91.75,402.28 L93.25,402.43 L94.75,402.58 L96.25,402.72 L97.75,402.85 L99.25,402.98 L100.75,403.10 L102.25,403.22 L103.75,403.33 L105.25,403.44 L106.75,403.55 L108.25,403.65 L109.75,403.74 L111.25,403.84 L112.75,403.92 L114.25,404.01 L115.75,404.09 L117.25,404.17 L118.75,404.24 L120.25,404.31 L121.75,404.38 L123.25,404.45 L124.75,404.51 L126.25,404.57 L127.75,404.62 L129.25,404.68 L130.75,404.73 L132.25,404.78 L133.75,404.83 L135.25,404.87 L136.75,404.92 L138.25,404.96 L139.75,405.00 L141.25,405.04 L142.75,405.07 L144.25,405.11 L145.75,405.14 L147.25,405.17 L148.75,405.20 L150.25,405.23 L151.75,405.26 L153.25,405.29 L154.75,405.31 L156.25,405.34 L156.70,405.34" fill="none" stroke="#333333" stroke-width="1.5" stroke-dasharray="4.2 3"/>
<path d="M-7.25,338.64 L-5.75,338.64 L-4.25,338.64 L-2.75,338.64 L-1.25,338.64 L0.25,338.64 L1.75,338.64 L3.25,338.64 L4.75,338.64 L6.25,338.64 L7.75,338.64 L9.25,338.65 L10.75,338.65 L12.25,338.65 L13.75,338.65 L15.25,338.65 L16.75,338.65 L18.25,338.66 L19.75,338.66 L21.25,338.66 L22.75,338.66 L24.25,338.67 L25.75,338.67 L27.25,338.68 L28.75,338.68 L30.25,338.69 L31.75,338.69 L33.25,338.70 L34.75,338.71 L36.25,338.72 L37.75,338.73 L39.25,338.74 L40.75,338.76 L42.25,338.77 L43.75,338.79 L45.25,338.81 L46.75,338.83 L48.25,338.86 L49.75,338.89 L51.25,338.92 L52.75,338.96 L54.25,339.00 L55.75,339.04 L57.25,339.10 L58.75,339.16 L60.25,339.22 L61.75,339.30 L63.25,339.38 L64.75,339.48 L66.25,339.59 L67.75,339.71 L69.25,339.85 L70.75,340.00 L72.25,340.18 L73.75,340.37 L75.25,340.59 L76.75,340.84 L78.25,341.12 L79.75,341.43 L81.25,341.77 L82.75,342.16 L84.25,342.59 L85.75,343.08 L87.25,343.61 L88.75,344.21 L90.25,344.87 L91.75,345.59 L93.25,346.40 L94.75,347.28 L96.25,348.25 L97.75,349.30 L99.25,350.45 L100.75,351.69 L102.25,353.03 L103.75,354.47 L105.25,356.01 L106.75,357.64 L108.25,359.36 L109.75,361.17 L111.25,363.06 L112.75,365.01 L114.25,367.01 L115.75,369.06 L117.25,371.13 L118.75,373.22 L120.25,375.30 L121.75,377.36 L123.25,379.39 L124.75,381.38 L126.25,383.30 L127.75,385.15 L129.25,386.92 L130.75,388.60 L132.25,390.19 L133.75,391.68 L135.25,393.08 L136.75,394.37 L138.25,395.57 L139.75,396.68 L141.25,397.69 L142.75,398.62 L144.25,399.47 L145.75,400.24 L147.25,400.93 L148.75,401.56 L150.25,402.13 L151.75,402.64 L153.25,403.10 L154.75,403.51 L156.25,403.88 L156.70,403.98" fill="none" stroke="#d8302f" stroke-width="1.5" stroke-dasharray="2.4 2.3"/>
<path d="M248,75.1 V83.4 M246,75.1 H250 M246,83.4 H250" stroke="#333333" stroke-width="1.4" fill="none"/>
<path d="M303.75,78.8 V102 M301.75,78.8 H305.75 M301.75,102 H305.75" stroke="#d8302f" stroke-width="1.4" fill="none"/>
<path d="M303.75,109 V129 M301.75,109 H305.75 M301.75,129 H305.75" stroke="#333333" stroke-width="1.4" fill="none"/>
<path d="M342.5,84.4 V102.5 M340.5,84.4 H344.5 M340.5,102.5 H344.5" stroke="#d8302f" stroke-width="1.4" fill="none"/>
<path d="M342.5,108.5 V122 M340.5,108.5 H344.5 M340.5,122 H344.5" stroke="#3a90c2" stroke-width="1.4" fill="none"/>
<path d="M365,95.6 V111.25 M363,95.6 H367 M363,111.25 H367" stroke="#d8302f" stroke-width="1.4" fill="none"/>
<path d="M365,118.1 V127 M363,118.1 H367 M363,127 H367" stroke="#3a90c2" stroke-width="1.4" fill="none"/>
<path d="M376.25,98.75 V122 M374.25,98.75 H378.25 M374.25,122 H378.25" stroke="#d8302f" stroke-width="1.4" fill="none"/>
<path d="M248,213.5 V221.9 M246,213.5 H250 M246,221.9 H250" stroke="#333333" stroke-width="1.4" fill="none"/>
<path d="M303.75,217.5 V237.5 M301.75,217.5 H305.75 M301.75,237.5 H305.75" stroke="#d8302f" stroke-width="1.4" fill="none"/>
<path d="M303.75,237.5 V249 M301.75,237.5 H305.75 M301.75,249 H305.75" stroke="#3a90c2" stroke-width="1.4" fill="none"/>
<path d="M303.75,249 V260.6 M301.75,249 H305.75 M301.75,260.6 H305.75" stroke="#333333" stroke-width="1.4" fill="none"/>
<path d="M342.5,228 V234 M340.5,228 H344.5 M340.5,234 H344.5" stroke="#d8302f" stroke-width="1.4" fill="none"/>
<path d="M342.5,245.5 V261 M340.5,245.5 H344.5 M340.5,261 H344.5" stroke="#3a90c2" stroke-width="1.4" fill="none"/>
<path d="M365,231 V253.4 M363,231 H367 M363,253.4 H367" stroke="#d8302f" stroke-width="1.4" fill="none"/>
<path d="M365,255 V262 M363,255 H367 M363,262 H367" stroke="#3a90c2" stroke-width="1.4" fill="none"/>
<path d="M376,240.5 V248 M374,240.5 H378 M374,248 H378" stroke="#d8302f" stroke-width="1.4" fill="none"/>
<path d="M398.3,258 V268 M396.3,258 H400.3 M396.3,268 H400.3" stroke="#d8302f" stroke-width="1.4" fill="none"/>
<path d="M248,352.2 V360 M246,352.2 H250 M246,360 H250" stroke="#333333" stroke-width="1.4" fill="none"/>
<path d="M303.5,356.9 V380.5 M301.5,356.9 H305.5 M301.5,380.5 H305.5" stroke="#d8302f" stroke-width="1.4" fill="none"/>
<path d="M303.5,384 V406.7 M301.5,384 H305.5 M301.5,406.7 H305.5" stroke="#333333" stroke-width="1.4" fill="none"/>
<path d="M342.5,364.9 V377.1 M340.5,364.9 H344.5 M340.5,377.1 H344.5" stroke="#d8302f" stroke-width="1.4" fill="none"/>
<path d="M342.5,385.9 V403 M340.5,385.9 H344.5 M340.5,403 H344.5" stroke="#3a90c2" stroke-width="1.4" fill="none"/>
<path d="M365.1,375.5 V389.3 M363.1,375.5 H367.1 M363.1,389.3 H367.1" stroke="#d8302f" stroke-width="1.4" fill="none"/>
<path d="M365.1,394.7 V404 M363.1,394.7 H367.1 M363.1,404 H367.1" stroke="#3a90c2" stroke-width="1.4" fill="none"/>
<path d="M376.3,380.5 V395.4 M374.3,380.5 H378.3 M374.3,395.4 H378.3" stroke="#d8302f" stroke-width="1.4" fill="none"/>
<path d="M398.3,400 V410 M396.3,400 H400.3 M396.3,410 H400.3" stroke="#d8302f" stroke-width="1.4" fill="none"/>
<path d="M47.4,53.2 V68 M45.4,53.2 H49.4 M45.4,68 H49.4" stroke="#d8302f" stroke-width="1.4" fill="none"/>
<path d="M47.4,113 V119 M45.4,113 H49.4 M45.4,119 H49.4" stroke="#333333" stroke-width="1.4" fill="none"/>
<path d="M85.7,78 V106.9 M83.7,78 H87.7 M83.7,106.9 H87.7" stroke="#3a90c2" stroke-width="1.4" fill="none"/>
<path d="M85.7,109.4 V128.5 M83.7,109.4 H87.7 M83.7,128.5 H87.7" stroke="#333333" stroke-width="1.4" fill="none"/>
<path d="M107.1,75.1 V87.2 M105.1,75.1 H109.1 M105.1,87.2 H109.1" stroke="#d8302f" stroke-width="1.4" fill="none"/>
<path d="M107.1,106.9 V124 M105.1,106.9 H109.1 M105.1,124 H109.1" stroke="#3a90c2" stroke-width="1.4" fill="none"/>
<path d="M118.5,87 V97 M116.5,87 H120.5 M116.5,97 H120.5" stroke="#d8302f" stroke-width="1.4" fill="none"/>
<path d="M47.4,195.7 V203.2 M45.4,195.7 H49.4 M45.4,203.2 H49.4" stroke="#d8302f" stroke-width="1.4" fill="none"/>
<path d="M47.4,217.4 V229.3 M45.4,217.4 H49.4 M45.4,229.3 H49.4" stroke="#3a90c2" stroke-width="1.4" fill="none"/>
<path d="M47.4,247.5 V259 M45.4,247.5 H49.4 M45.4,259 H49.4" stroke="#333333" stroke-width="1.4" fill="none"/>
<path d="M85.7,222.7 V236.4 M83.7,222.7 H87.7 M83.7,236.4 H87.7" stroke="#3a90c2" stroke-width="1.4" fill="none"/>
<path d="M85.7,248.5 V265.6 M83.7,248.5 H87.7 M83.7,265.6 H87.7" stroke="#333333" stroke-width="1.4" fill="none"/>
<path d="M107.2,212.5 V224.1 M105.2,212.5 H109.2 M105.2,224.1 H109.2" stroke="#d8302f" stroke-width="1.4" fill="none"/>
<path d="M107.2,248.75 V265 M105.2,248.75 H109.2 M105.2,265 H109.2" stroke="#3a90c2" stroke-width="1.4" fill="none"/>
<path d="M118.4,221.5 V239.2 M116.4,221.5 H120.4 M116.4,239.2 H120.4" stroke="#d8302f" stroke-width="1.4" fill="none"/>
<path d="M118.4,253.1 V262 M116.4,253.1 H120.4 M116.4,262 H120.4" stroke="#3a90c2" stroke-width="1.4" fill="none"/>
<path d="M140.3,252.5 V265 M138.3,252.5 H142.3 M138.3,265 H142.3" stroke="#d8302f" stroke-width="1.4" fill="none"/>
<path d="M156.5,257.7 V268.1 M154.5,257.7 H158.5 M154.5,268.1 H158.5" stroke="#d8302f" stroke-width="1.4" fill="none"/>
<path d="M47.5,333.4 V347.5 M45.5,333.4 H49.5 M45.5,347.5 H49.5" stroke="#d8302f" stroke-width="1.4" fill="none"/>
<path d="M47.5,388.8 V402.9 M45.5,388.8 H49.5 M45.5,402.9 H49.5" stroke="#333333" stroke-width="1.4" fill="none"/>
<path d="M85.6,359.7 V381.25 M83.6,359.7 H87.6 M83.6,381.25 H87.6" stroke="#3a90c2" stroke-width="1.4" fill="none"/>
<path d="M85.6,387.5 V407.5 M83.6,387.5 H87.6 M83.6,407.5 H87.6" stroke="#333333" stroke-width="1.4" fill="none"/>
<path d="M107.25,354.3 V366.2 M105.25,354.3 H109.25 M105.25,366.2 H109.25" stroke="#d8302f" stroke-width="1.4" fill="none"/>
<path d="M107.25,388.75 V405 M105.25,388.75 H109.25 M105.25,405 H109.25" stroke="#3a90c2" stroke-width="1.4" fill="none"/>
<path d="M118.4,366.6 V378.1 M116.4,366.6 H120.4 M116.4,378.1 H120.4" stroke="#d8302f" stroke-width="1.4" fill="none"/>
<path d="M140.3,393 V404 M138.3,393 H142.3 M138.3,404 H142.3" stroke="#d8302f" stroke-width="1.4" fill="none"/>
<path d="M237.5,30.4 V138.75 H425.75 V30.4" fill="none" stroke="#1a1a1a" stroke-width="1.5" stroke-linejoin="miter"/>
<path d="M237.5,168.5 V277 H425.75 V168.5" fill="none" stroke="#1a1a1a" stroke-width="1.5" stroke-linejoin="miter"/>
<path d="M237.5,306.6 V415 H425.75 V306.6" fill="none" stroke="#1a1a1a" stroke-width="1.5" stroke-linejoin="miter"/>
<path d="M-17.6,30.5 V139 H166.9 V30.5" fill="none" stroke="#1a1a1a" stroke-width="1.5" stroke-linejoin="miter"/>
<path d="M-17.6,169.5 V278 H166.9 V169.5" fill="none" stroke="#1a1a1a" stroke-width="1.5" stroke-linejoin="miter"/>
<path d="M-17.6,308 V417 H166.9 V308" fill="none" stroke="#1a1a1a" stroke-width="1.5" stroke-linejoin="miter"/>
<rect x="237.5" y="8" width="188.25" height="22.4" fill="#dcdcdc" stroke="#858585" stroke-width="1.1"/>
<text x="331.125" y="23.0" text-anchor="middle" font-weight="bold" font-size="10.7" fill="#1a1a1a">ADAC</text>
<rect x="237.5" y="146" width="188.25" height="22.5" fill="#dcdcdc" stroke="#858585" stroke-width="1.1"/>
<text x="331.125" y="161.05" text-anchor="middle" font-weight="bold" font-size="10.7" fill="#1a1a1a">DDAB</text>
<rect x="237.5" y="284.5" width="188.25" height="22.100000000000023" fill="#dcdcdc" stroke="#858585" stroke-width="1.1"/>
<text x="331.125" y="299.35" text-anchor="middle" font-weight="bold" font-size="10.7" fill="#1a1a1a">DDAC</text>
<rect x="-17.6" y="8" width="184.5" height="22.5" fill="#dcdcdc" stroke="#858585" stroke-width="1.1"/>
<text x="74.55000000000001" y="23.05" text-anchor="middle" font-weight="bold" font-size="10.7" fill="#1a1a1a">ADAC</text>
<rect x="-17.6" y="147" width="184.5" height="22.5" fill="#dcdcdc" stroke="#858585" stroke-width="1.1"/>
<text x="74.55000000000001" y="162.05" text-anchor="middle" font-weight="bold" font-size="10.7" fill="#1a1a1a">DDAB</text>
<rect x="-17.6" y="285.3" width="184.5" height="22.69999999999999" fill="#dcdcdc" stroke="#858585" stroke-width="1.1"/>
<text x="74.55000000000001" y="300.45" text-anchor="middle" font-weight="bold" font-size="10.7" fill="#1a1a1a">DDAC</text>
<line x1="234.6" y1="35.30" x2="237.5" y2="35.30" stroke="#333" stroke-width="1.1"/>
<text x="231" y="39.00" text-anchor="end" font-size="10.5" fill="#333" stroke="#333" stroke-width="0.3">100</text>
<line x1="234.6" y1="58.85" x2="237.5" y2="58.85" stroke="#333" stroke-width="1.1"/>
<text x="231" y="62.55" text-anchor="end" font-size="10.5" fill="#333" stroke="#333" stroke-width="0.3">75</text>
<line x1="234.6" y1="82.40" x2="237.5" y2="82.40" stroke="#333" stroke-width="1.1"/>
<text x="231" y="86.10" text-anchor="end" font-size="10.5" fill="#333" stroke="#333" stroke-width="0.3">50</text>
<line x1="234.6" y1="105.95" x2="237.5" y2="105.95" stroke="#333" stroke-width="1.1"/>
<text x="231" y="109.65" text-anchor="end" font-size="10.5" fill="#333" stroke="#333" stroke-width="0.3">25</text>
<line x1="234.6" y1="129.50" x2="237.5" y2="129.50" stroke="#333" stroke-width="1.1"/>
<text x="231" y="133.20" text-anchor="end" font-size="10.5" fill="#333" stroke="#333" stroke-width="0.3">0</text>
<line x1="234.6" y1="173.40" x2="237.5" y2="173.40" stroke="#333" stroke-width="1.1"/>
<text x="231" y="177.10" text-anchor="end" font-size="10.5" fill="#333" stroke="#333" stroke-width="0.3">100</text>
<line x1="234.6" y1="196.95" x2="237.5" y2="196.95" stroke="#333" stroke-width="1.1"/>
<text x="231" y="200.65" text-anchor="end" font-size="10.5" fill="#333" stroke="#333" stroke-width="0.3">75</text>
<line x1="234.6" y1="220.50" x2="237.5" y2="220.50" stroke="#333" stroke-width="1.1"/>
<text x="231" y="224.20" text-anchor="end" font-size="10.5" fill="#333" stroke="#333" stroke-width="0.3">50</text>
<line x1="234.6" y1="244.05" x2="237.5" y2="244.05" stroke="#333" stroke-width="1.1"/>
<text x="231" y="247.75" text-anchor="end" font-size="10.5" fill="#333" stroke="#333" stroke-width="0.3">25</text>
<line x1="234.6" y1="267.60" x2="237.5" y2="267.60" stroke="#333" stroke-width="1.1"/>
<text x="231" y="271.30" text-anchor="end" font-size="10.5" fill="#333" stroke="#333" stroke-width="0.3">0</text>
<line x1="234.6" y1="311.50" x2="237.5" y2="311.50" stroke="#333" stroke-width="1.1"/>
<text x="231" y="315.20" text-anchor="end" font-size="10.5" fill="#333" stroke="#333" stroke-width="0.3">100</text>
<line x1="234.6" y1="335.05" x2="237.5" y2="335.05" stroke="#333" stroke-width="1.1"/>
<text x="231" y="338.75" text-anchor="end" font-size="10.5" fill="#333" stroke="#333" stroke-width="0.3">75</text>
<line x1="234.6" y1="358.60" x2="237.5" y2="358.60" stroke="#333" stroke-width="1.1"/>
<text x="231" y="362.30" text-anchor="end" font-size="10.5" fill="#333" stroke="#333" stroke-width="0.3">50</text>
<line x1="234.6" y1="382.15" x2="237.5" y2="382.15" stroke="#333" stroke-width="1.1"/>
<text x="231" y="385.85" text-anchor="end" font-size="10.5" fill="#333" stroke="#333" stroke-width="0.3">25</text>
<line x1="234.6" y1="405.70" x2="237.5" y2="405.70" stroke="#333" stroke-width="1.1"/>
<text x="231" y="409.40" text-anchor="end" font-size="10.5" fill="#333" stroke="#333" stroke-width="0.3">0</text>
<line x1="248" y1="415" x2="248" y2="418.5" stroke="#333" stroke-width="1.1"/>
<text x="248" y="431.9" text-anchor="middle" font-size="13.5" fill="#2b2b2b" stroke="#2b2b2b" stroke-width="0.3">0</text>
<line x1="303.75" y1="415" x2="303.75" y2="418.5" stroke="#333" stroke-width="1.1"/>
<text x="303.75" y="431.9" text-anchor="middle" font-size="13.5" fill="#2b2b2b" stroke="#2b2b2b" stroke-width="0.3">0.01</text>
<line x1="360.25" y1="415" x2="360.25" y2="418.5" stroke="#333" stroke-width="1.1"/>
<text x="360.25" y="431.9" text-anchor="middle" font-size="13.5" fill="#2b2b2b" stroke="#2b2b2b" stroke-width="0.3">0.1</text>
<line x1="415.4" y1="415" x2="415.4" y2="418.5" stroke="#333" stroke-width="1.1"/>
<text x="415.4" y="431.9" text-anchor="middle" font-size="13.5" fill="#2b2b2b" stroke="#2b2b2b" stroke-width="0.3">1</text>
<line x1="47.4" y1="417" x2="47.4" y2="420.5" stroke="#333" stroke-width="1.1"/>
<text x="47.4" y="433.4" text-anchor="middle" font-size="13.5" fill="#2b2b2b" stroke="#2b2b2b" stroke-width="0.3">0.01</text>
<line x1="102.4" y1="417" x2="102.4" y2="420.5" stroke="#333" stroke-width="1.1"/>
<text x="102.4" y="433.4" text-anchor="middle" font-size="13.5" fill="#2b2b2b" stroke="#2b2b2b" stroke-width="0.3">0.1</text>
<line x1="156.7" y1="417" x2="156.7" y2="420.5" stroke="#333" stroke-width="1.1"/>
<text x="156.7" y="433.4" text-anchor="middle" font-size="13.5" fill="#2b2b2b" stroke="#2b2b2b" stroke-width="0.3">1</text>
<text x="234.8" y="460.7" text-anchor="middle" font-weight="bold" font-size="17.85" fill="#000">Concentration (%)[log]</text>
<text transform="translate(203.2,223.5) rotate(-90)" text-anchor="middle" font-weight="bold" font-size="12.4" fill="#000">Egyptian broomrape seeds germination (%)</text>
<circle cx="187.1" cy="180" r="0.9" fill="#333"/>
<text x="457.4" y="178.5" font-size="11.9" fill="#222" stroke="#222" stroke-width="0.2">Exposure</text>
<text x="457.4" y="192" font-size="11.9" fill="#222" stroke="#222" stroke-width="0.2">duration</text>
<line x1="447.75" y1="219.75" x2="464.75" y2="219.75" stroke="#d8302f" stroke-opacity="0.72" stroke-width="1.7" stroke-dasharray="2.6 2.1"/>
<line x1="447.75" y1="237.5" x2="464.75" y2="237.5" stroke="#3a90c2" stroke-opacity="0.7" stroke-width="1.9"/>
<line x1="447.75" y1="255.25" x2="464.75" y2="255.25" stroke="#333333" stroke-opacity="0.85" stroke-width="1.5" stroke-dasharray="4.2 3"/>
<text x="472.1" y="222.6" font-size="10.5" fill="#222">10 min</text>
<text x="475.1" y="240.4" font-size="10.5" fill="#222">1</text>
<text x="475.1" y="258.2" font-size="10.5" fill="#222">2</text>
</svg></body></html>
